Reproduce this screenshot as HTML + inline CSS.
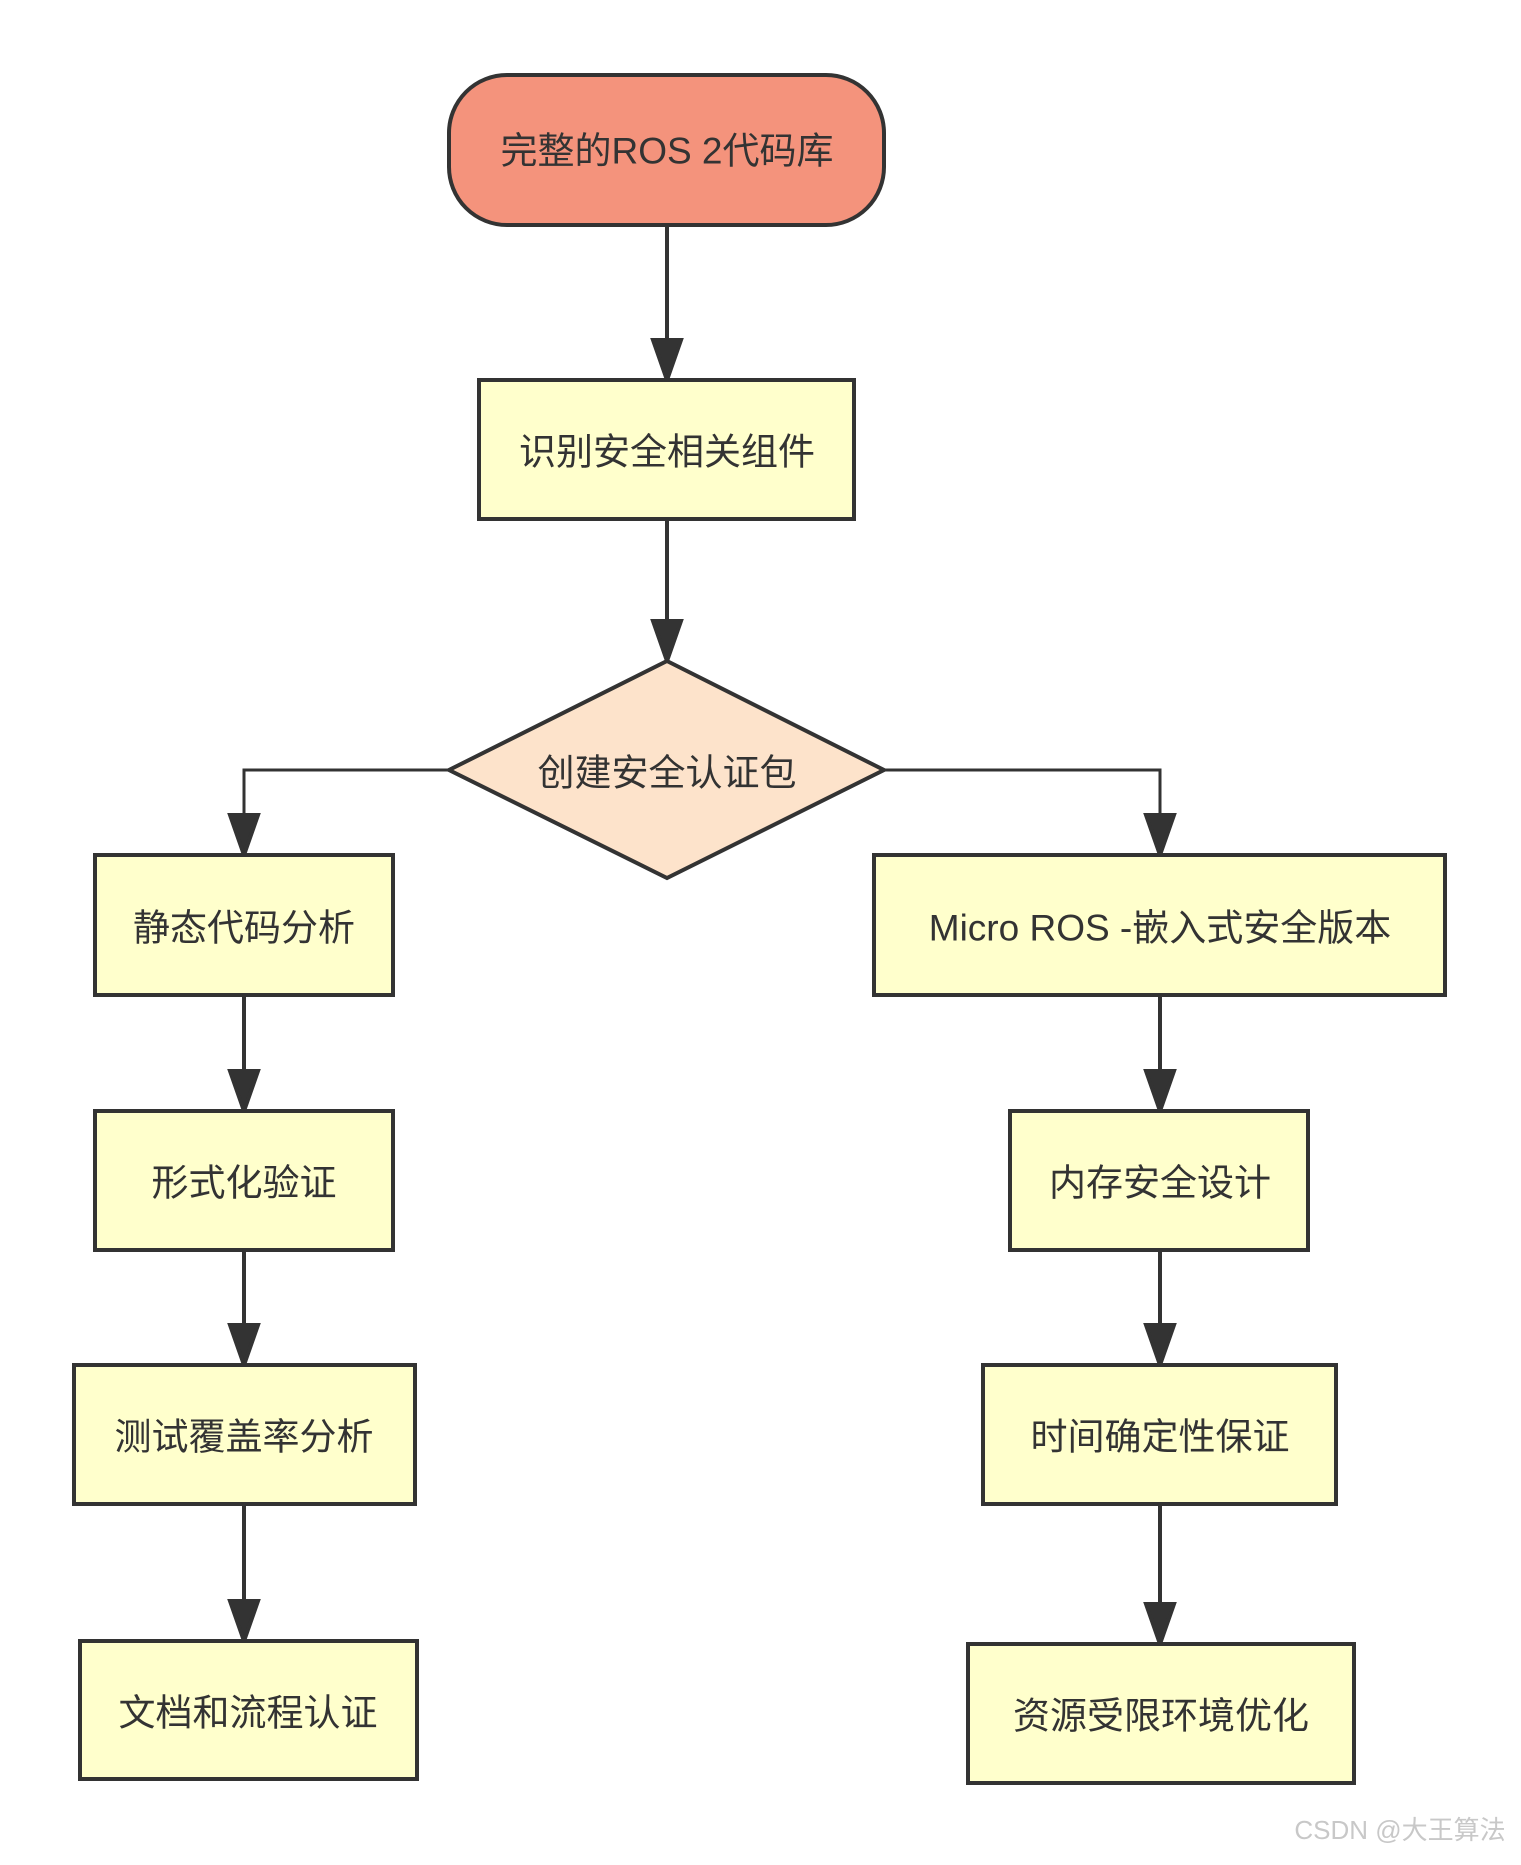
<!DOCTYPE html>
<html><head><meta charset="utf-8"><style>
html,body{margin:0;padding:0;background:#fff}
svg text{font-family:"Liberation Sans","Noto Sans CJK SC",sans-serif;font-size:37px;fill:#333;text-anchor:middle;dominant-baseline:central}
</style></head><body>
<svg width="1521" height="1860" viewBox="0 0 1521 1860" xmlns="http://www.w3.org/2000/svg">
<defs><marker id="a" markerWidth="28" markerHeight="40" refX="14" refY="40" orient="auto-start-reverse" markerUnits="userSpaceOnUse" viewBox="0 0 28 40"><path d="M0,0 L28,0 L14,40 Z" fill="#333" transform="rotate(0)"/></marker></defs>
<g stroke="#333" stroke-width="4" fill="none">
<path d="M667 225 V340"/><path d="M653 340 L681 340 L667 380 Z" fill="#333"/>
<path d="M667 519 V621"/><path d="M653 621 L681 621 L667 661 Z" fill="#333"/>
<path d="M449 770 H244 V815" stroke-width="3"/><path d="M230 815 L258 815 L244 855 Z" fill="#333"/>
<path d="M884 770 H1160 V815" stroke-width="3"/><path d="M1146 815 L1174 815 L1160 855 Z" fill="#333"/>
<path d="M244 995 V1071"/><path d="M230 1071 L258 1071 L244 1111 Z" fill="#333"/>
<path d="M244 1250 V1325"/><path d="M230 1325 L258 1325 L244 1365 Z" fill="#333"/>
<path d="M244 1504 V1601"/><path d="M230 1601 L258 1601 L244 1641 Z" fill="#333"/>
<path d="M1160 995 V1071"/><path d="M1146 1071 L1174 1071 L1160 1111 Z" fill="#333"/>
<path d="M1160 1250 V1325"/><path d="M1146 1325 L1174 1325 L1160 1365 Z" fill="#333"/>
<path d="M1160 1504 V1604"/><path d="M1146 1604 L1174 1604 L1160 1644 Z" fill="#333"/>
<rect x="449" y="75" width="435" height="150" rx="58" fill="#f4937c"/>
<rect x="479" y="380" width="375" height="139" fill="#ffffcc"/>
<path d="M667 661 L884 770 L667 878 L449 770 Z" fill="#fde3cb"/>
<rect x="95" y="855" width="298" height="140" fill="#ffffcc"/>
<rect x="874" y="855" width="571" height="140" fill="#ffffcc"/>
<rect x="95" y="1111" width="298" height="139" fill="#ffffcc"/>
<rect x="1010" y="1111" width="298" height="139" fill="#ffffcc"/>
<rect x="74" y="1365" width="341" height="139" fill="#ffffcc"/>
<rect x="983" y="1365" width="353" height="139" fill="#ffffcc"/>
<rect x="80" y="1641" width="337" height="138" fill="#ffffcc"/>
<rect x="968" y="1644" width="386" height="139" fill="#ffffcc"/>
</g>
<text x="667" y="151">完整的ROS 2代码库</text>
<text x="667" y="452">识别安全相关组件</text>
<text x="667" y="773">创建安全认证包</text>
<text x="244" y="928">静态代码分析</text>
<text x="1160" y="928">Micro ROS -嵌入式安全版本</text>
<text x="244" y="1183">形式化验证</text>
<text x="1160" y="1183">内存安全设计</text>
<text x="244" y="1437">测试覆盖率分析</text>
<text x="1160" y="1437">时间确定性保证</text>
<text x="248" y="1713">文档和流程认证</text>
<text x="1161" y="1716">资源受限环境优化</text>
<text x="1400" y="1830" style="font-size:26px;fill:#c8c8c8">CSDN @大王算法</text>
</svg>
</body></html>
